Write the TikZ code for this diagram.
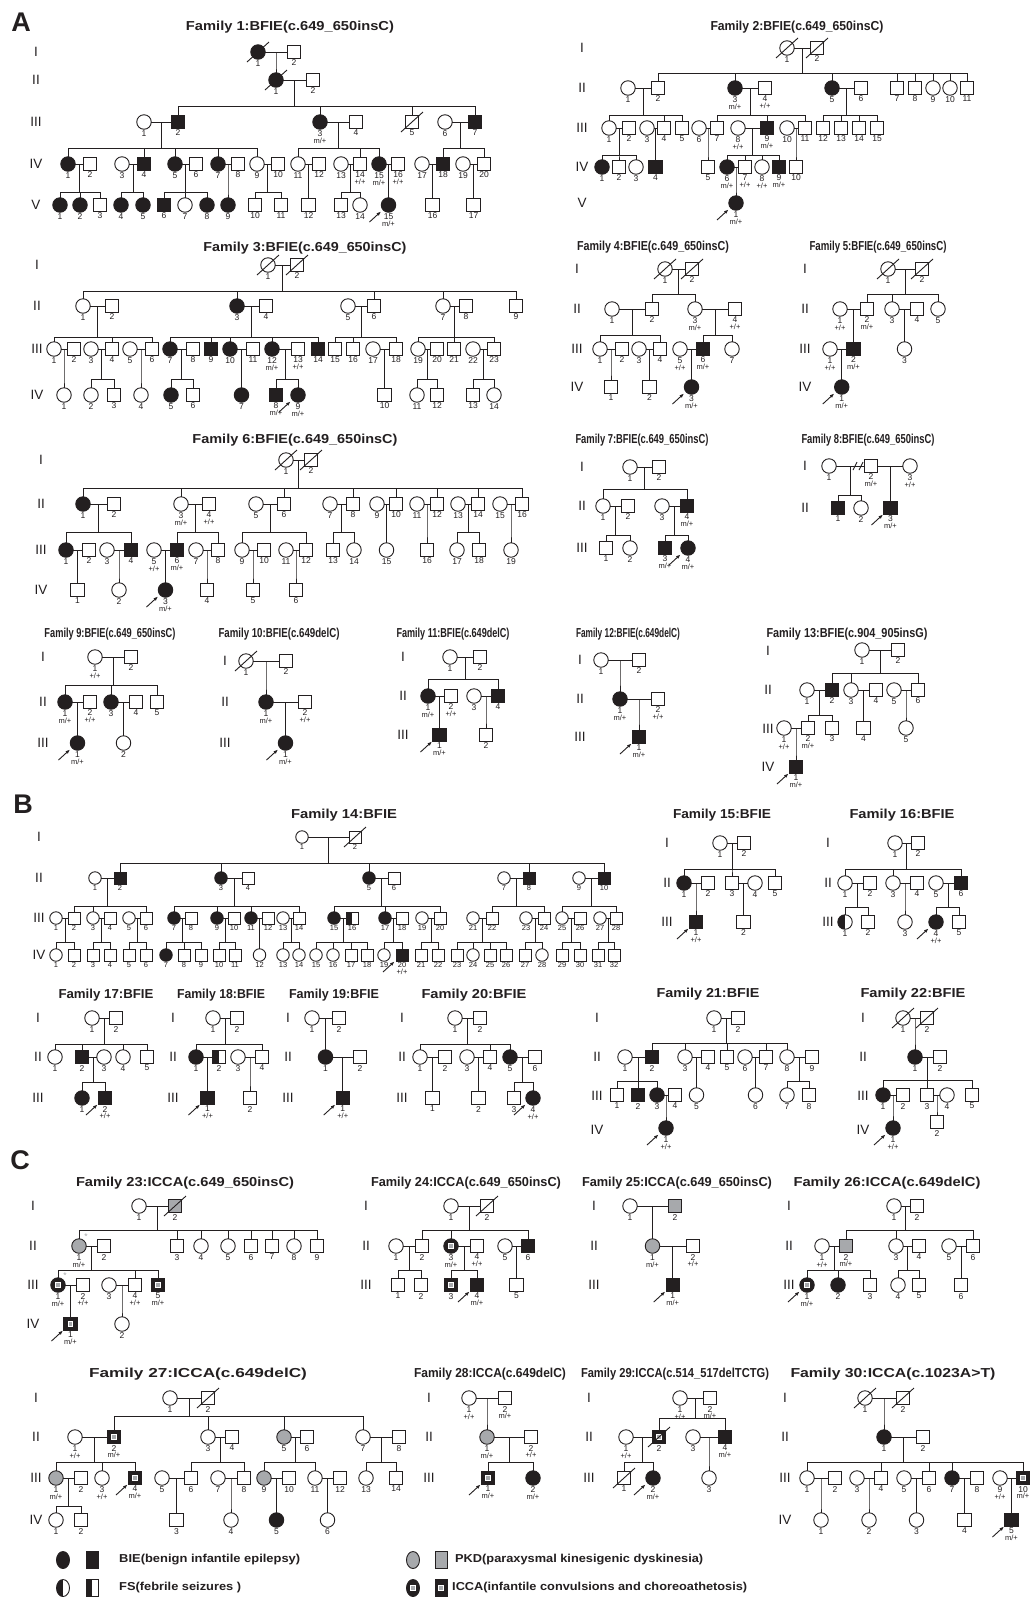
\documentclass[tikz,border=0pt]{standalone}
\usepackage{fontspec}
\setmainfont{Liberation Sans}
\usepackage{graphicx}
\usetikzlibrary{positioning, arrows.meta, calc, shapes.geometric}
\definecolor{ink}{HTML}{231F20}
\definecolor{pkdgray}{HTML}{A7A9AC}
\newcommand{\symsq}{13.5}
\newcommand{\symci}{14.5}
\newcommand{\numsize}{8.5}
\tikzset{
  ln/.style={draw=ink, line width=0.9pt},
  sym/.style={draw=ink, line width=0.9pt, inner sep=0pt, outer sep=0pt},
  ml/.style={sym, rectangle, minimum size=\symsq pt},
  fl/.style={sym, circle, minimum size=\symci pt},
  aff/.style={fill=ink},
  pkd/.style={fill=pkdgray},
  fs/.style={path picture={\fill[ink] (path picture bounding box.south west) rectangle (path picture bounding box.north);}},
  icca/.style={fill=ink, path picture={
    \fill[white] ([xshift=-2.8pt,yshift=-2.8pt]path picture bounding box.center) rectangle ([xshift=2.8pt,yshift=2.8pt]path picture bounding box.center);
    \fill[pkdgray] ([xshift=-1.6pt,yshift=-1.6pt]path picture bounding box.center) rectangle ([xshift=1.6pt,yshift=1.6pt]path picture bounding box.center);}},
  num/.style={inner sep=0.3pt, font=\fontsize{\numsize}{9}\selectfont, text=ink},
  gtp/.style={inner sep=0.3pt, font=\fontsize{7.5}{8}\selectfont, text=ink},
  gen/.style={inner sep=0pt, font=\fontsize{13.5}{14}\selectfont, text=ink},
  ttl/.style={inner sep=0pt, font=\bfseries\fontsize{13}{14}\selectfont, text=ink},
  pnl/.style={inner sep=0pt, font=\bfseries\fontsize{27}{28}\selectfont, text=ink},
  lgd/.style={inner sep=0pt, anchor=west, font=\bfseries\fontsize{11.5}{12}\selectfont, text=ink},
}
\newcommand{\ind}[4]{\node[#1] (#2) at (#3) {}; \node[num, below=0.8pt of #2] (#2n) {#4};}
\newcommand{\gty}[2]{\node[gtp, below=0.3pt of #1n] (#1g) {#2};}
\newcommand{\dead}[1]{\draw[ln] ($(#1)+(-11,10)$) -- ($(#1)+(11,-10)$);}
\newcommand{\prb}[1]{\draw[ln, -{Latex[length=4.5pt,width=3.5pt]}] ($(#1)+(-19,17)$) -- ($(#1)+(-7.5,6.5)$);}
\newcommand{\cpl}[3]{\draw[ln] (#1) -- (#2); \coordinate (#3) at ($(#1)!.5!(#2)$);}
\newcommand{\sib}[3]{\foreach \ch in {#3}{\draw[ln] (#1) -- (#1 |- 0,#2) -| (\ch.north);}}
\newcommand{\gens}[3]{\foreach \lb/\yy in {#3}{\node[gen] (#1\lb) at (#2,\yy) {\lb};}}
\newcommand{\famtitle}[4]{\node[ttl] (#1) at (#2) {\resizebox{#3pt}{\height}{#4}};}

\begin{document}
\begin{tikzpicture}[x=1pt, y=-1pt]
\fill[white] (0,0) rectangle (1035,1599);
\useasboundingbox (0,0) rectangle (1035,1599);

\node[pnl] (pA) at (21,22) {A};
\node[pnl] (pB) at (23,804) {B};
\node[pnl] (pC) at (20,1160) {C};

% Family 1
\famtitle{t1}{290,27}{208}{Family 1:BFIE(c.649\_650insC)}
\gens{g1}{36}{I/52,II/80,III/122,IV/164,V/205}
\ind{fl,aff}{f1a1}{258,52}{1} \dead{f1a1}
\ind{ml}{f1a2}{294,52}{2}
\cpl{f1a1}{f1a2}{m1a}
\ind{fl,aff}{f1b1}{276,80}{1} \dead{f1b1}
\ind{ml}{f1b2}{313,80}{2}
\sib{m1a}{66}{f1b1}
\cpl{f1b1}{f1b2}{m1b}
\ind{fl}{f1c1}{144,122}{1}
\ind{ml,aff}{f1c2}{178,122}{2}
\ind{fl,aff}{f1c3}{320,122}{3} \gty{f1c3}{m/+}
\ind{ml}{f1c4}{356,122}{4}
\ind{ml}{f1c5}{412,122}{5} \dead{f1c5}
\ind{fl}{f1c6}{445,122}{6}
\ind{ml,aff}{f1c7}{475,122}{7}
\sib{m1b}{106}{f1c2,f1c3,f1c5,f1c7}
\cpl{f1c1}{f1c2}{m1c1}
\cpl{f1c3}{f1c4}{m1c3}
\cpl{f1c6}{f1c7}{m1c6}
\ind{fl,aff}{f1d1}{68,164}{1}
\ind{ml}{f1d2}{90,164}{2}
\ind{fl}{f1d3}{122,164}{3}
\ind{ml,aff}{f1d4}{144,164}{4}
\ind{fl,aff}{f1d5}{175,164}{5}
\ind{ml}{f1d6}{196,164}{6}
\ind{fl,aff}{f1d7}{218,164}{7}
\ind{ml}{f1d8}{238,164}{8}
\ind{fl}{f1d9}{257,164}{9}
\ind{ml}{f1d10}{278,164}{10}
\ind{fl}{f1d11}{298,164}{11}
\ind{ml}{f1d12}{319,164}{12}
\ind{fl}{f1d13}{341,164}{13}
\ind{ml}{f1d14}{360,164}{14} \gty{f1d14}{+/+}
\ind{fl,aff}{f1d15}{379,164}{15} \gty{f1d15}{m/+}
\ind{ml}{f1d16}{398,164}{16} \gty{f1d16}{+/+}
\ind{fl}{f1d17}{422,164}{17}
\ind{ml,aff}{f1d18}{443,164}{18}
\ind{fl}{f1d19}{463,164}{19}
\ind{ml}{f1d20}{484,164}{20}
\sib{m1c1}{148}{f1d1,f1d4,f1d5,f1d7,f1d9}
\sib{m1c3}{148}{f1d11,f1d14,f1d15}
\sib{m1c6}{148}{f1d18,f1d20}
\cpl{f1d1}{f1d2}{m1d1}
\cpl{f1d3}{f1d4}{m1d3}
\cpl{f1d5}{f1d6}{m1d5}
\cpl{f1d7}{f1d8}{m1d7}
\cpl{f1d9}{f1d10}{m1d9}
\cpl{f1d11}{f1d12}{m1d11}
\cpl{f1d13}{f1d14}{m1d13}
\cpl{f1d15}{f1d16}{m1d15}
\cpl{f1d17}{f1d18}{m1d17}
\cpl{f1d19}{f1d20}{m1d19}
\ind{fl,aff}{f1e1}{60,205}{1}
\ind{fl,aff}{f1e2}{80,205}{2}
\ind{ml}{f1e3}{100,205}{3}
\ind{fl,aff}{f1e4}{121,205}{4}
\ind{fl,aff}{f1e5}{143,205}{5}
\ind{ml,aff}{f1e6}{164,205}{6}
\ind{fl}{f1e7}{185,205}{7}
\ind{fl,aff}{f1e8}{207,205}{8}
\ind{fl,aff}{f1e9}{228,205}{9}
\ind{ml}{f1e10}{255,205}{10}
\ind{ml}{f1e11}{281,205}{11}
\ind{ml}{f1e12}{308.5,205}{12}
\ind{ml}{f1e13}{341,205}{13}
\ind{fl}{f1e14}{360,205}{14}
\ind{fl,aff}{f1e15}{388.5,205}{15} \gty{f1e15}{m/+} \prb{f1e15}
\ind{ml}{f1e16}{432.5,205}{16}
\ind{ml}{f1e17}{473.5,205}{17}
\sib{m1d1}{192}{f1e1,f1e2,f1e3}
\sib{m1d3}{192}{f1e4,f1e5}
\sib{m1d5}{192}{f1e6,f1e7,f1e8}
\sib{m1d7}{192}{f1e9}
\sib{m1d9}{192}{f1e10,f1e11}
\sib{m1d11}{192}{f1e12}
\sib{m1d13}{192}{f1e13,f1e14}
\sib{m1d15}{192}{f1e15}
\sib{m1d17}{192}{f1e16}
\sib{m1d19}{192}{f1e17}

% Family 2
\famtitle{t2}{797,27}{173}{Family 2:BFIE(c.649\_650insC)}
\gens{g2}{582}{I/48,II/88,III/128,IV/167,V/203}
\ind{fl}{f2a1}{787,48}{1} \dead{f2a1}
\ind{ml}{f2a2}{817,48}{2} \dead{f2a2}
\cpl{f2a1}{f2a2}{m2a}
\ind{fl}{f2b1}{628,88}{1}
\ind{ml}{f2b2}{658,88}{2}
\ind{fl,aff}{f2b3}{735,88}{3} \gty{f2b3}{m/+}
\ind{ml}{f2b4}{765,88}{4} \gty{f2b4}{+/+}
\ind{fl,aff}{f2b5}{832,88}{5}
\ind{ml}{f2b6}{861,88}{6}
\ind{ml}{f2b7}{897,88}{7}
\ind{ml}{f2b8}{915,88}{8}
\ind{fl}{f2b9}{933,88}{9}
\ind{fl}{f2b10}{950,88}{10}
\ind{ml}{f2b11}{967,88}{11}
\sib{m2a}{73}{f2b2,f2b3,f2b5,f2b7,f2b8,f2b9,f2b10,f2b11}
\cpl{f2b1}{f2b2}{m2b1}
\cpl{f2b3}{f2b4}{m2b3}
\cpl{f2b5}{f2b6}{m2b5}
\ind{fl}{f2c1}{609,128}{1}
\ind{ml}{f2c2}{629,128}{2}
\ind{fl}{f2c3}{647,128}{3}
\ind{ml}{f2c4}{664,128}{4}
\ind{ml}{f2c5}{682,128}{5}
\ind{fl}{f2c6}{699,128}{6}
\ind{ml}{f2c7}{717,128}{7}
\ind{fl}{f2c8}{738,128}{8} \gty{f2c8}{+/+}
\ind{ml,aff}{f2c9}{767,128}{9} \gty{f2c9}{m/+}
\ind{fl}{f2c10}{787,128}{10}
\ind{ml}{f2c11}{805,128}{11}
\ind{ml}{f2c12}{823,128}{12}
\ind{ml}{f2c13}{841,128}{13}
\ind{ml}{f2c14}{859,128}{14}
\ind{ml}{f2c15}{877,128}{15}
\sib{m2b1}{115}{f2c1,f2c4,f2c5}
\sib{m2b3}{115}{f2c7,f2c9,f2c11}
\sib{m2b5}{115}{f2c12,f2c13,f2c14,f2c15}
\cpl{f2c1}{f2c2}{m2c1}
\cpl{f2c3}{f2c4}{m2c3}
\cpl{f2c6}{f2c7}{m2c6}
\cpl{f2c8}{f2c9}{m2c8}
\cpl{f2c10}{f2c11}{m2c10}
\ind{fl,aff}{f2d1}{602,167}{1}
\ind{ml}{f2d2}{619,167}{2}
\ind{fl}{f2d3}{636,167}{3}
\ind{ml,aff}{f2d4}{655.5,167}{4}
\ind{ml}{f2d5}{708,167}{5}
\ind{fl,aff}{f2d6}{727,167}{6} \gty{f2d6}{m/+}
\ind{ml}{f2d7}{745,167}{7} \gty{f2d7}{+/+}
\ind{fl}{f2d8}{762,167}{8} \gty{f2d8}{+/+}
\ind{ml,aff}{f2d9}{779,167}{9} \gty{f2d9}{m/+}
\ind{ml}{f2d10}{796,167}{10}
\sib{m2c1}{155}{f2d1,f2d2,f2d3}
\sib{m2c3}{155}{f2d4}
\sib{m2c6}{155}{f2d5}
\sib{m2c8}{155}{f2d6,f2d7,f2d8,f2d9}
\sib{m2c10}{155}{f2d10}
\cpl{f2d6}{f2d7}{m2d6}
\ind{fl,aff}{f2e1}{736,203}{1} \gty{f2e1}{m/+} \prb{f2e1}
\sib{m2d6}{190}{f2e1}

% Family 3
\famtitle{t3}{305,248}{203}{Family 3:BFIE(c.649\_650insC)}
\gens{g3}{37}{I/265,II/306,III/349,IV/395}
\ind{fl}{f3a1}{268,265}{1} \dead{f3a1}
\ind{ml}{f3a2}{297,265}{2} \dead{f3a2}
\cpl{f3a1}{f3a2}{m3a}
\ind{fl}{f3b1}{83,306}{1}
\ind{ml}{f3b2}{112,306}{2}
\ind{fl,aff}{f3b3}{237,306}{3}
\ind{ml}{f3b4}{266,306}{4}
\ind{fl}{f3b5}{348,306}{5}
\ind{ml}{f3b6}{374,306}{6}
\ind{fl}{f3b7}{443,306}{7}
\ind{ml}{f3b8}{466,306}{8}
\ind{ml}{f3b9}{516,306}{9}
\sib{m3a}{291}{f3b1,f3b3,f3b6,f3b7,f3b9}
\cpl{f3b1}{f3b2}{m3b1}
\cpl{f3b3}{f3b4}{m3b3}
\cpl{f3b5}{f3b6}{m3b5}
\cpl{f3b7}{f3b8}{m3b7}
\ind{fl}{f3c1}{54,349}{1}
\ind{ml}{f3c2}{74,349}{2}
\ind{fl}{f3c3}{91,349}{3}
\ind{ml}{f3c4}{112,349}{4}
\ind{fl}{f3c5}{130,349}{5}
\ind{ml}{f3c6}{152,349}{6}
\ind{fl,aff}{f3c7}{170,349}{7}
\ind{ml}{f3c8}{193,349}{8}
\ind{ml,aff}{f3c9}{211,349}{9}
\ind{fl,aff}{f3c10}{230,349}{10}
\ind{ml}{f3c11}{253,349}{11}
\ind{fl,aff}{f3c12}{272,349}{12} \gty{f3c12}{m/+}
\ind{ml}{f3c13}{298,349}{13} \gty{f3c13}{+/+}
\ind{ml,aff}{f3c14}{318,349}{14}
\ind{ml}{f3c15}{335,349}{15}
\ind{ml}{f3c16}{353,349}{16}
\ind{fl}{f3c17}{373,349}{17}
\ind{ml}{f3c18}{396,349}{18}
\ind{fl}{f3c19}{418,349}{19}
\ind{ml}{f3c20}{437,349}{20}
\ind{ml}{f3c21}{454,349}{21}
\ind{fl}{f3c22}{473,349}{22}
\ind{ml}{f3c23}{494,349}{23}
\sib{m3b1}{337}{f3c1,f3c4,f3c6}
\sib{m3b3}{337}{f3c7,f3c9,f3c10,f3c12,f3c14}
\sib{m3b5}{337}{f3c15,f3c16,f3c18}
\sib{m3b7}{337}{f3c19,f3c21,f3c23}
\cpl{f3c1}{f3c2}{m3c1}
\cpl{f3c3}{f3c4}{m3c3}
\cpl{f3c5}{f3c6}{m3c5}
\cpl{f3c7}{f3c8}{m3c7}
\cpl{f3c10}{f3c11}{m3c10}
\cpl{f3c12}{f3c13}{m3c12}
\cpl{f3c17}{f3c18}{m3c17}
\cpl{f3c19}{f3c20}{m3c19}
\cpl{f3c22}{f3c23}{m3c22}
\ind{fl}{f3d1}{64,395}{1}
\ind{fl}{f3d2}{91,395}{2}
\ind{ml}{f3d3}{114,395}{3}
\ind{fl}{f3d4}{141,395}{4}
\ind{fl,aff}{f3d5}{171,395}{5}
\ind{ml}{f3d6}{193,395}{6}
\ind{fl,aff}{f3d7}{241.5,395}{7}
\ind{ml,aff}{f3d8}{276,395}{8} \gty{f3d8}{m/+}
\ind{fl,aff}{f3d9}{298,395}{9} \gty{f3d9}{m/+} \prb{f3d9}
\ind{ml}{f3d10}{384.5,395}{10}
\ind{fl}{f3d11}{417,395}{11}
\ind{ml}{f3d12}{437,395}{12}
\ind{ml}{f3d13}{473,395}{13}
\ind{fl}{f3d14}{494,395}{14}
\sib{m3c1}{379}{f3d1}
\sib{m3c3}{379}{f3d2,f3d3}
\sib{m3c5}{379}{f3d4}
\sib{m3c7}{379}{f3d5,f3d6}
\sib{m3c10}{379}{f3d7}
\sib{m3c12}{379}{f3d8,f3d9}
\sib{m3c17}{379}{f3d10}
\sib{m3c19}{379}{f3d11,f3d12}
\sib{m3c22}{379}{f3d13,f3d14}

% Family 4
\famtitle{t4}{653,247}{152}{Family 4:BFIE(c.649\_650insC)}
\gens{g4}{577}{I/269,II/309,III/349,IV/387}
\ind{fl}{f4a1}{665,269}{1} \dead{f4a1}
\ind{ml}{f4a2}{692,269}{2} \dead{f4a2}
\cpl{f4a1}{f4a2}{m4a}
\ind{fl}{f4b1}{612,309}{1}
\ind{ml}{f4b2}{652,309}{2}
\ind{fl}{f4b3}{695,309}{3} \gty{f4b3}{m/+}
\ind{ml}{f4b4}{735,309}{4} \gty{f4b4}{+/+}
\sib{m4a}{294}{f4b2,f4b3}
\cpl{f4b1}{f4b2}{m4b1}
\cpl{f4b3}{f4b4}{m4b3}
\ind{fl}{f4c1}{600,349}{1}
\ind{ml}{f4c2}{622,349}{2}
\ind{fl}{f4c3}{639,349}{3}
\ind{ml}{f4c4}{660,349}{4}
\ind{fl}{f4c5}{680,349}{5} \gty{f4c5}{+/+}
\ind{ml,aff}{f4c6}{703,349}{6} \gty{f4c6}{m/+}
\ind{fl}{f4c7}{732,349}{7}
\sib{m4b1}{335}{f4c1,f4c4}
\sib{m4b3}{335}{f4c6,f4c7}
\cpl{f4c1}{f4c2}{m4c1}
\cpl{f4c3}{f4c4}{m4c3}
\cpl{f4c5}{f4c6}{m4c5}
\ind{ml}{f4d1}{611,387}{1}
\ind{ml}{f4d2}{649.5,387}{2}
\ind{fl,aff}{f4d3}{691.5,387}{3} \gty{f4d3}{m/+} \prb{f4d3}
\sib{m4c1}{372}{f4d1}
\sib{m4c3}{372}{f4d2}
\sib{m4c5}{372}{f4d3}

% Family 5
\famtitle{t5}{878,247}{137}{Family 5:BFIE(c.649\_650insC)}
\gens{g5}{805}{I/269,II/309,III/349,IV/387}
\ind{fl}{f5a1}{888,269}{1} \dead{f5a1}
\ind{ml}{f5a2}{922,269}{2} \dead{f5a2}
\cpl{f5a1}{f5a2}{m5a}
\ind{fl}{f5b1}{840,309}{1} \gty{f5b1}{+/+}
\ind{ml}{f5b2}{867,309}{2} \gty{f5b2}{m/+}
\ind{fl}{f5b3}{892,309}{3}
\ind{ml}{f5b4}{917,309}{4}
\ind{fl}{f5b5}{938,309}{5}
\sib{m5a}{294}{f5b2,f5b3,f5b5}
\cpl{f5b1}{f5b2}{m5b1}
\cpl{f5b3}{f5b4}{m5b3}
\ind{fl}{f5c1}{830,349}{1} \gty{f5c1}{+/+}
\ind{ml,aff}{f5c2}{853.5,349}{2} \gty{f5c2}{m/+}
\ind{fl}{f5c3}{904.5,349}{3}
\sib{m5b1}{335}{f5c2}
\sib{m5b3}{335}{f5c3}
\cpl{f5c1}{f5c2}{m5c1}
\ind{fl,aff}{f5d1}{841.75,387}{1} \gty{f5d1}{m/+} \prb{f5d1}
\sib{m5c1}{372}{f5d1}

% Family 6
\famtitle{t6}{295,440}{205}{Family 6:BFIE(c.649\_650insC)}
\gens{g6}{41}{I/460,II/504,III/550,IV/590}
\ind{fl}{f6a1}{286,460}{1} \dead{f6a1}
\ind{ml}{f6a2}{311,460}{2} \dead{f6a2}
\cpl{f6a1}{f6a2}{m6a}
\ind{fl,aff}{f6b1}{83,504}{1}
\ind{ml}{f6b2}{114,504}{2}
\ind{fl}{f6b3}{181,504}{3} \gty{f6b3}{m/+}
\ind{ml}{f6b4}{209,504}{4} \gty{f6b4}{+/+}
\ind{fl}{f6b5}{256,504}{5}
\ind{ml}{f6b6}{284,504}{6}
\ind{fl}{f6b7}{330,504}{7}
\ind{ml}{f6b8}{353,504}{8}
\ind{fl}{f6b9}{377,504}{9}
\ind{ml}{f6b10}{396,504}{10}
\ind{fl}{f6b11}{417,504}{11}
\ind{ml}{f6b12}{437,504}{12}
\ind{fl}{f6b13}{458,504}{13}
\ind{ml}{f6b14}{478,504}{14}
\ind{fl}{f6b15}{500,504}{15}
\ind{ml}{f6b16}{522,504}{16}
\sib{m6a}{488}{f6b1,f6b3,f6b6,f6b8,f6b10,f6b12,f6b14,f6b16}
\cpl{f6b1}{f6b2}{m6b1}
\cpl{f6b3}{f6b4}{m6b3}
\cpl{f6b5}{f6b6}{m6b5}
\cpl{f6b7}{f6b8}{m6b7}
\cpl{f6b9}{f6b10}{m6b9}
\cpl{f6b11}{f6b12}{m6b11}
\cpl{f6b13}{f6b14}{m6b13}
\cpl{f6b15}{f6b16}{m6b15}
\ind{fl,aff}{f6c1}{66,550}{1}
\ind{ml}{f6c2}{89,550}{2}
\ind{fl}{f6c3}{107,550}{3}
\ind{ml,aff}{f6c4}{131,550}{4}
\ind{fl}{f6c5}{154,550}{5} \gty{f6c5}{+/+}
\ind{ml,aff}{f6c6}{177,550}{6} \gty{f6c6}{m/+}
\ind{fl}{f6c7}{196,550}{7}
\ind{ml}{f6c8}{218,550}{8}
\ind{fl}{f6c9}{242,550}{9}
\ind{ml}{f6c10}{264,550}{10}
\ind{fl}{f6c11}{286,550}{11}
\ind{ml}{f6c12}{306,550}{12}
\ind{ml}{f6c13}{333,550}{13}
\ind{fl}{f6c14}{354,550}{14}
\ind{fl}{f6c15}{386.5,550}{15}
\ind{ml}{f6c16}{427,550}{16}
\ind{fl}{f6c17}{457,550}{17}
\ind{ml}{f6c18}{479,550}{18}
\ind{fl}{f6c19}{511,550}{19}
\sib{m6b1}{532}{f6c1,f6c4}
\sib{m6b3}{532}{f6c6,f6c8}
\sib{m6b5}{532}{f6c9,f6c12}
\sib{m6b7}{532}{f6c13,f6c14}
\sib{m6b9}{532}{f6c15}
\sib{m6b11}{532}{f6c16}
\sib{m6b13}{532}{f6c17,f6c18}
\sib{m6b15}{532}{f6c19}
\cpl{f6c1}{f6c2}{m6c1}
\cpl{f6c3}{f6c4}{m6c3}
\cpl{f6c5}{f6c6}{m6c5}
\cpl{f6c7}{f6c8}{m6c7}
\cpl{f6c9}{f6c10}{m6c9}
\cpl{f6c11}{f6c12}{m6c11}
\ind{ml}{f6d1}{77.5,590}{1}
\ind{fl}{f6d2}{119,590}{2}
\ind{fl,aff}{f6d3}{165.5,590}{3} \gty{f6d3}{m/+} \prb{f6d3}
\ind{ml}{f6d4}{207,590}{4}
\ind{ml}{f6d5}{253,590}{5}
\ind{ml}{f6d6}{296,590}{6}
\sib{m6c1}{575}{f6d1}
\sib{m6c3}{575}{f6d2}
\sib{m6c5}{575}{f6d3}
\sib{m6c7}{575}{f6d4}
\sib{m6c9}{575}{f6d5}
\sib{m6c11}{575}{f6d6}

% Family 7
\famtitle{t7}{642,440}{133}{Family 7:BFIE(c.649\_650insC)}
\gens{g7}{582}{I/467,II/506,III/548}
\ind{fl}{f7a1}{630,467}{1}
\ind{ml}{f7a2}{659,467}{2}
\cpl{f7a1}{f7a2}{m7a}
\ind{fl}{f7b1}{603,506}{1}
\ind{ml}{f7b2}{628,506}{2}
\ind{fl}{f7b3}{662,506}{3}
\ind{ml,aff}{f7b4}{687,506}{4} \gty{f7b4}{m/+}
\sib{m7a}{489}{f7b1,f7b4}
\cpl{f7b1}{f7b2}{m7b1}
\cpl{f7b3}{f7b4}{m7b3}
\ind{ml}{f7c1}{606,548}{1}
\ind{fl}{f7c2}{630,548}{2}
\ind{ml,aff}{f7c3}{665,548}{3} \gty{f7c3}{m/+}
\ind{fl,aff}{f7c4}{688,548}{4} \gty{f7c4}{m/+} \prb{f7c4}
\sib{m7b1}{535}{f7c1,f7c2}
\sib{m7b3}{535}{f7c3,f7c4}

% Family 8
\famtitle{t8}{868,440}{133}{Family 8:BFIE(c.649\_650insC)}
\gens{g8}{805}{I/466,II/508}
\ind{fl}{f8a1}{829,466}{1}
\ind{ml}{f8a2}{871,466}{2} \gty{f8a2}{m/+}
\ind{fl}{f8a3}{910,466}{3} \gty{f8a3}{+/+}
\cpl{f8a1}{f8a2}{m8a}
\cpl{f8a2}{f8a3}{m8b}
\draw[ln] ($(m8a)+(3,4)$) -- ($(m8a)+(7,-4)$);
\draw[ln] ($(m8a)+(9,4)$) -- ($(m8a)+(13,-4)$);
\ind{ml,aff}{f8b1}{838,508}{1}
\ind{fl}{f8b2}{861,508}{2}
\ind{ml,aff}{f8b3}{890.5,508}{3} \gty{f8b3}{m/+} \prb{f8b3}
\sib{m8a}{495}{f8b1,f8b2}
\sib{m8b}{495}{f8b3}

% Family 9
\famtitle{t9}{110,634}{131}{Family 9:BFIE(c.649\_650insC)}
\gens{g9}{43}{I/657,II/702,III/743}
\ind{fl}{f9a1}{95,657}{1} \gty{f9a1}{+/+}
\ind{ml}{f9a2}{131,657}{2}
\cpl{f9a1}{f9a2}{m9a}
\ind{fl,aff}{f9b1}{65,702}{1} \gty{f9b1}{m/+}
\ind{ml}{f9b2}{90,702}{2} \gty{f9b2}{+/+}
\ind{fl,aff}{f9b3}{111,702}{3}
\ind{ml}{f9b4}{136,702}{4}
\ind{ml}{f9b5}{157,702}{5}
\sib{m9a}{685}{f9b1,f9b3,f9b5}
\cpl{f9b1}{f9b2}{m9b1}
\cpl{f9b3}{f9b4}{m9b3}
\ind{fl,aff}{f9c1}{77.5,743}{1} \gty{f9c1}{m/+} \prb{f9c1}
\ind{fl}{f9c2}{123.5,743}{2}
\sib{m9b1}{728}{f9c1}
\sib{m9b3}{728}{f9c2}

% Family 10
\famtitle{t10}{279,634}{121}{Family 10:BFIE(c.649delC)}
\gens{g10}{225}{I/661,II/702,III/743}
\ind{fl}{f10a1}{246,661}{1} \dead{f10a1}
\ind{ml}{f10a2}{286,661}{2}
\cpl{f10a1}{f10a2}{m10a}
\ind{fl,aff}{f10b1}{266,702}{1} \gty{f10b1}{m/+}
\ind{ml}{f10b2}{305,702}{2} \gty{f10b2}{+/+}
\sib{m10a}{685}{f10b1}
\cpl{f10b1}{f10b2}{m10b}
\ind{fl,aff}{f10c1}{285.5,743}{1} \gty{f10c1}{m/+} \prb{f10c1}
\sib{m10b}{728}{f10c1}

% Family 11
\famtitle{t11}{453,634}{113}{Family 11:BFIE(c.649delC)}
\gens{g11}{403}{I/657,II/696,III/735}
\ind{fl}{f11a1}{450,657}{1}
\ind{ml}{f11a2}{480,657}{2}
\cpl{f11a1}{f11a2}{m11a}
\ind{fl,aff}{f11b1}{428,696}{1} \gty{f11b1}{m/+}
\ind{ml}{f11b2}{451,696}{2} \gty{f11b2}{+/+}
\ind{fl}{f11b3}{474,696}{3}
\ind{ml,aff}{f11b4}{498,696}{4}
\sib{m11a}{679}{f11b1,f11b4}
\cpl{f11b1}{f11b2}{m11b1}
\cpl{f11b3}{f11b4}{m11b3}
\ind{ml,aff}{f11c1}{439.5,735}{1} \gty{f11c1}{m/+} \prb{f11c1}
\ind{ml}{f11c2}{486,735}{2}
\sib{m11b1}{720}{f11c1}
\sib{m11b3}{720}{f11c2}

% Family 12
\famtitle{t12}{628,634}{104}{Family 12:BFIE(c.649delC)}
\gens{g12}{580}{I/660,II/699,III/737}
\ind{fl}{f12a1}{601,660}{1}
\ind{ml}{f12a2}{639,660}{2}
\cpl{f12a1}{f12a2}{m12a}
\ind{fl,aff}{f12b1}{620,699}{1} \gty{f12b1}{m/+}
\ind{ml}{f12b2}{658,699}{2} \gty{f12b2}{+/+}
\sib{m12a}{680}{f12b1}
\cpl{f12b1}{f12b2}{m12b}
\ind{ml,aff}{f12c1}{639,737}{1} \gty{f12c1}{m/+} \prb{f12c1}
\sib{m12b}{720}{f12c1}

% Family 13
\famtitle{t13}{847,634}{161}{Family 13:BFIE(c.904\_905insG)}
\gens{g13}{768}{I/651,II/690,III/729,IV/767}
\ind{fl}{f13a1}{862,650}{1}
\ind{ml}{f13a2}{898,650}{2}
\cpl{f13a1}{f13a2}{m13a}
\ind{fl}{f13b1}{807,690}{1}
\ind{ml,aff}{f13b2}{832,690}{2}
\ind{fl}{f13b3}{851,690}{3}
\ind{ml}{f13b4}{876,690}{4}
\ind{fl}{f13b5}{894,690}{5}
\ind{ml}{f13b6}{918,690}{6}
\sib{m13a}{673}{f13b2,f13b3,f13b6}
\cpl{f13b1}{f13b2}{m13b1}
\cpl{f13b3}{f13b4}{m13b3}
\cpl{f13b5}{f13b6}{m13b5}
\ind{fl}{f13c1}{784,728}{1} \gty{f13c1}{+/+}
\ind{ml}{f13c2}{808,728}{2} \gty{f13c2}{m/+}
\ind{ml}{f13c3}{832,728}{3}
\ind{ml}{f13c4}{863.5,728}{4}
\ind{fl}{f13c5}{906,728}{5}
\sib{m13b1}{715}{f13c2,f13c3}
\sib{m13b3}{715}{f13c4}
\sib{m13b5}{715}{f13c5}
\cpl{f13c1}{f13c2}{m13c1}
\ind{ml,aff}{f13d1}{796,767}{1} \gty{f13d1}{m/+} \prb{f13d1}
\sib{m13c1}{752}{f13d1}

% Family 14
\renewcommand{\symsq}{12}
\renewcommand{\symci}{12.5}
\renewcommand{\numsize}{7.5}
\famtitle{t14}{344,815}{106}{Family 14:BFIE}
\gens{g14}{39}{I/837,II/878,III/918,IV/955}
\ind{fl}{f14a1}{302,837}{1}
\ind{ml}{f14a2}{355,837}{2} \dead{f14a2}
\cpl{f14a1}{f14a2}{m14a}
\ind{fl}{f14b1}{95,878}{1}
\ind{ml,aff}{f14b2}{120,878}{2}
\ind{fl,aff}{f14b3}{221,878}{3}
\ind{ml}{f14b4}{248,878}{4}
\ind{fl,aff}{f14b5}{369,878}{5}
\ind{ml}{f14b6}{394,878}{6}
\ind{fl}{f14b7}{504,878}{7}
\ind{ml,aff}{f14b8}{529,878}{8}
\ind{fl}{f14b9}{579,878}{9}
\ind{ml,aff}{f14b10}{604,878}{10}
\sib{m14a}{863}{f14b2,f14b3,f14b5,f14b8,f14b10}
\cpl{f14b1}{f14b2}{m14b1}
\cpl{f14b3}{f14b4}{m14b3}
\cpl{f14b5}{f14b6}{m14b5}
\cpl{f14b7}{f14b8}{m14b7}
\cpl{f14b9}{f14b10}{m14b9}
\ind{fl}{f14c1}{56,918}{1}
\ind{ml}{f14c2}{74,918}{2}
\ind{fl}{f14c3}{93,918}{3}
\ind{ml}{f14c4}{110,918}{4}
\ind{fl}{f14c5}{129,918}{5}
\ind{ml}{f14c6}{146,918}{6}
\ind{fl,aff}{f14c7}{174,918}{7}
\ind{ml}{f14c8}{191,918}{8}
\ind{fl,aff}{f14c9}{217,918}{9}
\ind{ml}{f14c10}{234,918}{10}
\ind{fl,aff}{f14c11}{251,918}{11}
\ind{ml}{f14c12}{268,918}{12}
\ind{fl}{f14c13}{283,918}{13}
\ind{ml}{f14c14}{299,918}{14}
\ind{fl,aff}{f14c15}{334,918}{15}
\ind{ml,fs}{f14c16}{352,918}{16}
\ind{fl,aff}{f14c17}{385,918}{17}
\ind{ml}{f14c18}{402,918}{18}
\ind{fl}{f14c19}{422,918}{19}
\ind{ml}{f14c20}{440,918}{20}
\ind{fl}{f14c21}{473,918}{21}
\ind{ml}{f14c22}{492,918}{22}
\ind{fl}{f14c23}{526,918}{23}
\ind{ml}{f14c24}{544,918}{24}
\ind{fl}{f14c25}{562,918}{25}
\ind{ml}{f14c26}{580,918}{26}
\ind{fl}{f14c27}{600,918}{27}
\ind{ml}{f14c28}{616,918}{28}
\sib{m14b1}{906}{f14c2,f14c3,f14c6}
\sib{m14b3}{906}{f14c7,f14c9,f14c11,f14c14}
\sib{m14b5}{906}{f14c15,f14c17,f14c20}
\sib{m14b7}{906}{f14c22,f14c24}
\sib{m14b9}{906}{f14c25,f14c28}
\cpl{f14c1}{f14c2}{m14c1}
\cpl{f14c3}{f14c4}{m14c3}
\cpl{f14c5}{f14c6}{m14c5}
\cpl{f14c7}{f14c8}{m14c7}
\cpl{f14c9}{f14c10}{m14c9}
\cpl{f14c11}{f14c12}{m14c11}
\cpl{f14c13}{f14c14}{m14c13}
\cpl{f14c15}{f14c16}{m14c15}
\cpl{f14c17}{f14c18}{m14c17}
\cpl{f14c19}{f14c20}{m14c19}
\cpl{f14c21}{f14c22}{m14c21}
\cpl{f14c23}{f14c24}{m14c23}
\cpl{f14c25}{f14c26}{m14c25}
\cpl{f14c27}{f14c28}{m14c27}
\ind{fl}{f14d1}{56,955}{1}
\ind{ml}{f14d2}{74,955}{2}
\ind{ml}{f14d3}{93,955}{3}
\ind{ml}{f14d4}{110,955}{4}
\ind{ml}{f14d5}{129,955}{5}
\ind{ml}{f14d6}{146,955}{6}
\ind{fl,aff}{f14d7}{166,955}{7}
\ind{ml}{f14d8}{184,955}{8}
\ind{ml}{f14d9}{201,955}{9}
\ind{ml}{f14d10}{219,955}{10}
\ind{ml}{f14d11}{235,955}{11}
\ind{fl}{f14d12}{259.5,955}{12}
\ind{fl}{f14d13}{283,955}{13}
\ind{fl}{f14d14}{299,955}{14}
\ind{fl}{f14d15}{316,955}{15}
\ind{fl}{f14d16}{333,955}{16}
\ind{ml}{f14d17}{351,955}{17}
\ind{ml}{f14d18}{367,955}{18}
\ind{fl}{f14d19}{384,955}{19}
\ind{ml,aff}{f14d20}{402,955}{20} \gty{f14d20}{+/+} \prb{f14d20}
\ind{ml}{f14d21}{421,955}{21}
\ind{ml}{f14d22}{438,955}{22}
\ind{ml}{f14d23}{457,955}{23}
\ind{fl}{f14d24}{473,955}{24}
\ind{ml}{f14d25}{490,955}{25}
\ind{ml}{f14d26}{506,955}{26}
\ind{ml}{f14d27}{525,955}{27}
\ind{fl}{f14d28}{542,955}{28}
\ind{ml}{f14d29}{562,955}{29}
\ind{ml}{f14d30}{580,955}{30}
\ind{ml}{f14d31}{598,955}{31}
\ind{ml}{f14d32}{614,955}{32}
\sib{m14c1}{942}{f14d1,f14d2}
\sib{m14c3}{942}{f14d3,f14d4}
\sib{m14c5}{942}{f14d5,f14d6}
\sib{m14c7}{942}{f14d7,f14d8,f14d9}
\sib{m14c9}{942}{f14d10,f14d11}
\sib{m14c11}{942}{f14d12}
\sib{m14c13}{942}{f14d13,f14d14}
\sib{m14c15}{942}{f14d15,f14d16,f14d17,f14d18}
\sib{m14c17}{942}{f14d19,f14d20}
\sib{m14c19}{942}{f14d21,f14d22}
\sib{m14c21}{942}{f14d23,f14d24,f14d25,f14d26}
\sib{m14c23}{942}{f14d27,f14d28}
\sib{m14c25}{942}{f14d29,f14d30}
\sib{m14c27}{942}{f14d31,f14d32}
\renewcommand{\symsq}{13.5}
\renewcommand{\symci}{14.5}
\renewcommand{\numsize}{8.5}

% Family 15
\famtitle{t15}{722,815}{98}{Family 15:BFIE}
\gens{g15}{667}{I/843,II/883,III/922}
\ind{fl}{f15a1}{720,843}{1}
\ind{ml}{f15a2}{744,843}{2}
\cpl{f15a1}{f15a2}{m15a}
\ind{fl,aff}{f15b1}{684,883}{1}
\ind{ml}{f15b2}{708,883}{2}
\ind{ml}{f15b3}{732,883}{3}
\ind{fl}{f15b4}{755,883}{4}
\ind{ml}{f15b5}{775,883}{5}
\sib{m15a}{869}{f15b1,f15b3,f15b5}
\cpl{f15b1}{f15b2}{m15b1}
\cpl{f15b3}{f15b4}{m15b3}
\ind{ml,aff}{f15c1}{696,922}{1} \gty{f15c1}{+/+} \prb{f15c1}
\ind{ml}{f15c2}{743.5,922}{2}
\sib{m15b1}{907}{f15c1}
\sib{m15b3}{907}{f15c2}

% Family 16
\famtitle{t16}{902,815}{105}{Family 16:BFIE}
\gens{g16}{828}{I/843,II/883,III/922}
\ind{fl}{f16a1}{895,843}{1}
\ind{ml}{f16a2}{918,843}{2}
\cpl{f16a1}{f16a2}{m16a}
\ind{fl}{f16b1}{845,883}{1}
\ind{ml}{f16b2}{870,883}{2}
\ind{fl}{f16b3}{893,883}{3}
\ind{ml}{f16b4}{917,883}{4}
\ind{fl}{f16b5}{936,883}{5}
\ind{ml,aff}{f16b6}{961,883}{6}
\sib{m16a}{869}{f16b1,f16b3,f16b6}
\cpl{f16b1}{f16b2}{m16b1}
\cpl{f16b3}{f16b4}{m16b3}
\cpl{f16b5}{f16b6}{m16b5}
\ind{fl,fs}{f16c1}{845,922}{1}
\ind{ml}{f16c2}{868,922}{2}
\ind{fl}{f16c3}{905,922}{3}
\ind{fl,aff}{f16c4}{936,922}{4} \gty{f16c4}{+/+} \prb{f16c4}
\ind{ml}{f16c5}{959,922}{5}
\sib{m16b1}{907}{f16c1,f16c2}
\sib{m16b3}{907}{f16c3}
\sib{m16b5}{907}{f16c4,f16c5}

% Family 17
\famtitle{t17}{106,995}{95}{Family 17:BFIE}
\gens{g17}{38}{I/1018,II/1057,III/1098}
\ind{fl}{f17a1}{92,1018}{1}
\ind{ml}{f17a2}{116,1018}{2}
\cpl{f17a1}{f17a2}{m17a}
\ind{fl}{f17b1}{55,1057}{1}
\ind{ml,aff}{f17b2}{82,1057}{2}
\ind{fl}{f17b3}{104,1057}{3}
\ind{fl}{f17b4}{123,1057}{4}
\ind{ml}{f17b5}{147,1057}{5}
\sib{m17a}{1044}{f17b1,f17b2,f17b4,f17b5}
\cpl{f17b2}{f17b3}{m17b2}
\ind{fl,aff}{f17c1}{82,1098}{1}
\ind{ml,aff}{f17c2}{105,1098}{2} \gty{f17c2}{+/+} \prb{f17c2}
\sib{m17b2}{1082}{f17c1,f17c2}

% Family 18
\famtitle{t18}{221,995}{88}{Family 18:BFIE}
\gens{g18}{173}{I/1018,II/1057,III/1098}
\ind{fl}{f18a1}{213,1018}{1}
\ind{ml}{f18a2}{237,1018}{2}
\cpl{f18a1}{f18a2}{m18a}
\ind{fl,aff}{f18b1}{196,1057}{1}
\ind{ml,fs}{f18b2}{219,1057}{2}
\ind{fl}{f18b3}{238,1057}{3}
\ind{ml}{f18b4}{262,1057}{4}
\sib{m18a}{1044}{f18b1,f18b4}
\cpl{f18b1}{f18b2}{m18b1}
\cpl{f18b3}{f18b4}{m18b3}
\ind{ml,aff}{f18c1}{207.5,1098}{1} \gty{f18c1}{+/+} \prb{f18c1}
\ind{ml}{f18c2}{250,1098}{2}
\sib{m18b1}{1082}{f18c1}
\sib{m18b3}{1082}{f18c2}

% Family 19
\famtitle{t19}{334,995}{90}{Family 19:BFIE}
\gens{g19}{288}{I/1018,II/1057,III/1098}
\ind{fl}{f19a1}{312,1018}{1}
\ind{ml}{f19a2}{339,1018}{2}
\cpl{f19a1}{f19a2}{m19a}
\ind{fl,aff}{f19b1}{325.5,1057}{1}
\ind{ml}{f19b2}{360,1057}{2}
\sib{m19a}{1040}{f19b1}
\cpl{f19b1}{f19b2}{m19b}
\ind{ml,aff}{f19c1}{342.75,1098}{1} \gty{f19c1}{+/+} \prb{f19c1}
\sib{m19b}{1082}{f19c1}

% Family 20
\famtitle{t20}{474,995}{105}{Family 20:BFIE}
\gens{g20}{402}{I/1018,II/1057,III/1098}
\ind{fl}{f20a1}{455,1018}{1}
\ind{ml}{f20a2}{480,1018}{2}
\cpl{f20a1}{f20a2}{m20a}
\ind{fl}{f20b1}{420,1057}{1}
\ind{ml}{f20b2}{445,1057}{2}
\ind{fl}{f20b3}{467,1057}{3}
\ind{ml}{f20b4}{490,1057}{4}
\ind{fl,aff}{f20b5}{510,1057}{5}
\ind{ml}{f20b6}{535,1057}{6}
\sib{m20a}{1044}{f20b1,f20b4,f20b5}
\cpl{f20b1}{f20b2}{m20b1}
\cpl{f20b3}{f20b4}{m20b3}
\cpl{f20b5}{f20b6}{m20b5}
\ind{ml}{f20c1}{432.5,1098}{1}
\ind{ml}{f20c2}{478.5,1098}{2}
\ind{ml}{f20c3}{514,1098}{3}
\ind{fl,aff}{f20c4}{533,1098}{4} \gty{f20c4}{+/+} \prb{f20c4}
\sib{m20b1}{1082}{f20c1}
\sib{m20b3}{1082}{f20c2}
\sib{m20b5}{1082}{f20c3,f20c4}

% Family 21
\famtitle{t21}{708,994}{103}{Family 21:BFIE}
\gens{g21}{597}{I/1018,II/1057,III/1096,IV/1130}
\ind{fl}{f21a1}{714,1018}{1}
\ind{ml}{f21a2}{738,1018}{2}
\cpl{f21a1}{f21a2}{m21a}
\ind{fl}{f21b1}{625,1057}{1}
\ind{ml,aff}{f21b2}{652,1057}{2}
\ind{fl}{f21b3}{685,1057}{3}
\ind{ml}{f21b4}{708,1057}{4}
\ind{ml}{f21b5}{727,1057}{5}
\ind{fl}{f21b6}{745,1057}{6}
\ind{ml}{f21b7}{766,1057}{7}
\ind{fl}{f21b8}{787,1057}{8}
\ind{ml}{f21b9}{812,1057}{9}
\sib{m21a}{1043}{f21b2,f21b3,f21b5,f21b7,f21b8}
\cpl{f21b1}{f21b2}{m21b1}
\cpl{f21b3}{f21b4}{m21b3}
\cpl{f21b6}{f21b7}{m21b6}
\cpl{f21b8}{f21b9}{m21b8}
\ind{ml}{f21c1}{617,1095}{1}
\ind{ml,aff}{f21c2}{638,1095}{2}
\ind{fl,aff}{f21c3}{657,1095}{3}
\ind{ml}{f21c4}{675,1095}{4}
\ind{fl}{f21c5}{696.5,1095}{5}
\ind{fl}{f21c6}{755.5,1095}{6}
\ind{fl}{f21c7}{787,1095}{7}
\ind{ml}{f21c8}{809,1095}{8}
\sib{m21b1}{1081}{f21c1,f21c2,f21c3}
\sib{m21b3}{1081}{f21c5}
\sib{m21b6}{1081}{f21c6}
\sib{m21b8}{1081}{f21c7,f21c8}
\cpl{f21c3}{f21c4}{m21c3}
\ind{fl,aff}{f21d1}{666,1128}{1} \gty{f21d1}{+/+} \prb{f21d1}
\sib{m21c3}{1114}{f21d1}

% Family 22
\famtitle{t22}{913,994}{105}{Family 22:BFIE}
\gens{g22}{863}{I/1018,II/1057,III/1096,IV/1130}
\ind{fl}{f22a1}{903,1018}{1} \dead{f22a1}
\ind{ml}{f22a2}{927,1018}{2} \dead{f22a2}
\cpl{f22a1}{f22a2}{m22a}
\ind{fl,aff}{f22b1}{915,1057}{1}
\ind{ml}{f22b2}{940,1057}{2}
\sib{m22a}{1040}{f22b1}
\cpl{f22b1}{f22b2}{m22b}
\ind{fl,aff}{f22c1}{883,1095}{1}
\ind{ml}{f22c2}{903,1095}{2}
\ind{ml}{f22c3}{927,1095}{3}
\ind{fl}{f22c4}{947,1095}{4}
\ind{ml}{f22c5}{972,1095}{5}
\sib{m22b}{1080}{f22c1,f22c3,f22c5}
\cpl{f22c1}{f22c2}{m22c1}
\cpl{f22c3}{f22c4}{m22c3}
\ind{fl,aff}{f22d1}{893,1128}{1} \gty{f22d1}{+/+} \prb{f22d1}
\ind{ml}{f22d2}{937,1122}{2}
\sib{m22c1}{1112}{f22d1}
\sib{m22c3}{1110}{f22d2}

% Family 23
\famtitle{t23}{185,1183}{218}{Family 23:ICCA(c.649\_650insC)}
\gens{g23}{33}{I/1206,II/1246,III/1285,IV/1324}
\ind{fl}{f23a1}{139,1206}{1}
\ind{ml,pkd}{f23a2}{175,1206}{2} \dead{f23a2}
\cpl{f23a1}{f23a2}{m23a}
\ind{fl,pkd}{f23b1}{79,1246}{1} \gty{f23b1}{m/+}
\ind{ml}{f23b2}{104,1246}{2}
\ind{ml}{f23b3}{177,1246}{3}
\ind{fl}{f23b4}{201,1246}{4}
\ind{fl}{f23b5}{228,1246}{5}
\ind{ml}{f23b6}{251,1246}{6}
\ind{ml}{f23b7}{272,1246}{7}
\ind{fl}{f23b8}{294,1246}{8}
\ind{ml}{f23b9}{317,1246}{9}
\node[num, text=pkdgray] (ast1) at ($(f23b1)+(7,-9)$) {*};
\sib{m23a}{1230}{f23b1,f23b3,f23b4,f23b5,f23b6,f23b7,f23b8,f23b9}
\cpl{f23b1}{f23b2}{m23b1}
\ind{fl,icca}{f23c1}{58,1285}{1} \gty{f23c1}{m/+}
\ind{ml}{f23c2}{83,1285}{2} \gty{f23c2}{+/+}
\ind{fl}{f23c3}{109,1285}{3}
\ind{ml}{f23c4}{135,1285}{4} \gty{f23c4}{+/+}
\ind{ml,icca}{f23c5}{158,1285}{5} \gty{f23c5}{m/+}
\node[num, text=pkdgray] (ast2) at ($(f23c1)+(7,-9)$) {*};
\sib{m23b1}{1270}{f23c1,f23c4,f23c5}
\cpl{f23c1}{f23c2}{m23c1}
\cpl{f23c3}{f23c4}{m23c3}
\ind{ml,icca}{f23d1}{70.5,1324}{1} \gty{f23d1}{m/+} \prb{f23d1}
\ind{fl}{f23d2}{122,1324}{2}
\sib{m23c1}{1310}{f23d1}
\sib{m23c3}{1310}{f23d2}

% Family 24
\famtitle{t24}{466,1183}{190}{Family 24:ICCA(c.649\_650insC)}
\gens{g24}{366}{I/1206,II/1246,III/1285}
\ind{fl}{f24a1}{451,1206}{1}
\ind{ml}{f24a2}{487,1206}{2} \dead{f24a2}
\cpl{f24a1}{f24a2}{m24a}
\ind{fl}{f24b1}{396,1246}{1}
\ind{ml}{f24b2}{422,1246}{2}
\ind{fl,icca}{f24b3}{451,1246}{3} \gty{f24b3}{m/+}
\ind{ml}{f24b4}{477,1246}{4} \gty{f24b4}{+/+}
\ind{fl}{f24b5}{505,1246}{5}
\ind{ml,aff}{f24b6}{528,1246}{6}
\sib{m24a}{1230}{f24b2,f24b3,f24b6}
\cpl{f24b1}{f24b2}{m24b1}
\cpl{f24b3}{f24b4}{m24b3}
\cpl{f24b5}{f24b6}{m24b5}
\ind{ml}{f24c1}{398,1285}{1}
\ind{ml}{f24c2}{421,1285}{2}
\ind{ml,icca}{f24c3}{451,1285}{3}
\ind{ml,aff}{f24c4}{477,1285}{4} \gty{f24c4}{m/+} \prb{f24c4}
\ind{ml}{f24c5}{516.5,1285}{5}
\sib{m24b1}{1270}{f24c1,f24c2}
\sib{m24b3}{1270}{f24c3,f24c4}
\sib{m24b5}{1270}{f24c5}

% Family 25
\famtitle{t25}{677,1183}{190}{Family 25:ICCA(c.649\_650insC)}
\gens{g25}{594}{I/1206,II/1246,III/1285}
\ind{fl}{f25a1}{630,1206}{1}
\ind{ml,pkd}{f25a2}{675,1206}{2}
\cpl{f25a1}{f25a2}{m25a}
\ind{fl,pkd}{f25b1}{652.5,1246}{1} \gty{f25b1}{m/+}
\ind{ml}{f25b2}{693,1246}{2} \gty{f25b2}{+/+}
\sib{m25a}{1230}{f25b1}
\cpl{f25b1}{f25b2}{m25b}
\ind{ml,aff}{f25c1}{672.75,1285}{1} \gty{f25c1}{m/+} \prb{f25c1}
\sib{m25b}{1270}{f25c1}

% Family 26
\famtitle{t26}{887,1183}{187}{Family 26:ICCA(c.649delC)}
\gens{g26}{789}{I/1206,II/1246,III/1285}
\ind{fl}{f26a1}{894,1206}{1}
\ind{ml}{f26a2}{917,1206}{2}
\cpl{f26a1}{f26a2}{m26a}
\ind{fl}{f26b1}{822,1246}{1} \gty{f26b1}{+/+}
\ind{ml,pkd}{f26b2}{846,1246}{2} \gty{f26b2}{m/+}
\ind{fl}{f26b3}{896,1246}{3}
\ind{ml}{f26b4}{919,1246}{4}
\ind{fl}{f26b5}{949,1246}{5}
\ind{ml}{f26b6}{973,1246}{6}
\sib{m26a}{1230}{f26b2,f26b3,f26b6}
\cpl{f26b1}{f26b2}{m26b1}
\cpl{f26b3}{f26b4}{m26b3}
\cpl{f26b5}{f26b6}{m26b5}
\ind{fl,icca}{f26c1}{807,1285}{1} \gty{f26c1}{m/+} \prb{f26c1}
\ind{fl,aff}{f26c2}{838,1285}{2}
\ind{ml}{f26c3}{870,1285}{3}
\ind{fl}{f26c4}{898,1285}{4}
\ind{ml}{f26c5}{919,1285}{5}
\ind{ml}{f26c6}{961,1285}{6}
\sib{m26b1}{1270}{f26c1,f26c2,f26c3}
\sib{m26b3}{1270}{f26c4,f26c5}
\sib{m26b5}{1270}{f26c6}

% Family 27
\famtitle{t27}{198,1374}{218}{Family 27:ICCA(c.649delC)}
\gens{g27}{36}{I/1398,II/1437,III/1478,IV/1520}
\ind{fl}{f27a1}{170,1398}{1}
\ind{ml}{f27a2}{208,1398}{2} \dead{f27a2}
\cpl{f27a1}{f27a2}{m27a}
\ind{fl}{f27b1}{75,1437}{1} \gty{f27b1}{+/+}
\ind{ml,icca}{f27b2}{114,1437}{2} \gty{f27b2}{m/+}
\ind{fl}{f27b3}{208,1437}{3}
\ind{ml}{f27b4}{232,1437}{4}
\ind{fl,pkd}{f27b5}{284,1437}{5}
\ind{ml}{f27b6}{307,1437}{6}
\ind{fl}{f27b7}{363,1437}{7}
\ind{ml}{f27b8}{399,1437}{8}
\sib{m27a}{1416}{f27b2,f27b3,f27b5,f27b7}
\cpl{f27b1}{f27b2}{m27b1}
\cpl{f27b3}{f27b4}{m27b3}
\cpl{f27b5}{f27b6}{m27b5}
\cpl{f27b7}{f27b8}{m27b7}
\ind{fl,pkd}{f27c1}{56,1478}{1} \gty{f27c1}{m/+}
\ind{ml}{f27c2}{81,1478}{2}
\ind{fl}{f27c3}{102,1478}{3} \gty{f27c3}{+/+}
\ind{ml,icca}{f27c4}{135,1478}{4} \gty{f27c4}{m/+} \prb{f27c4}
\ind{fl}{f27c5}{162,1478}{5}
\ind{ml}{f27c6}{191,1478}{6}
\ind{fl}{f27c7}{218,1478}{7}
\ind{ml}{f27c8}{244,1478}{8}
\ind{fl,pkd}{f27c9}{264,1478}{9}
\ind{ml}{f27c10}{289,1478}{10}
\ind{fl}{f27c11}{315,1478}{11}
\ind{ml}{f27c12}{340,1478}{12}
\ind{fl}{f27c13}{366,1478}{13}
\ind{ml}{f27c14}{396,1478}{14}
\sib{m27b1}{1462}{f27c1,f27c3,f27c4}
\sib{m27b3}{1462}{f27c6,f27c8}
\sib{m27b5}{1462}{f27c9,f27c11}
\sib{m27b7}{1462}{f27c13,f27c14}
\cpl{f27c1}{f27c2}{m27c1}
\cpl{f27c5}{f27c6}{m27c5}
\cpl{f27c7}{f27c8}{m27c7}
\cpl{f27c9}{f27c10}{m27c9}
\cpl{f27c11}{f27c12}{m27c11}
\ind{fl}{f27d1}{56,1520}{1}
\ind{ml}{f27d2}{81,1520}{2}
\ind{ml}{f27d3}{176.5,1520}{3}
\ind{fl}{f27d4}{231,1520}{4}
\ind{fl,aff}{f27d5}{276.5,1520}{5}
\ind{fl}{f27d6}{327.5,1520}{6}
\sib{m27c1}{1506}{f27d1,f27d2}
\sib{m27c5}{1506}{f27d3}
\sib{m27c7}{1506}{f27d4}
\sib{m27c9}{1506}{f27d5}
\sib{m27c11}{1506}{f27d6}

% Family 28
\famtitle{t28}{490,1374}{152}{Family 28:ICCA(c.649delC)}
\gens{g28}{429}{I/1398,II/1437,III/1478}
\ind{fl}{f28a1}{469,1398}{1} \gty{f28a1}{+/+}
\ind{ml}{f28a2}{505,1398}{2} \gty{f28a2}{m/+}
\cpl{f28a1}{f28a2}{m28a}
\ind{fl,pkd}{f28b1}{487,1437}{1} \gty{f28b1}{m/+}
\ind{ml}{f28b2}{531,1437}{2} \gty{f28b2}{+/+}
\sib{m28a}{1420}{f28b1}
\cpl{f28b1}{f28b2}{m28b}
\ind{ml,icca}{f28c1}{488,1478}{1} \gty{f28c1}{m/+} \prb{f28c1}
\ind{fl,aff}{f28c2}{533,1478}{2} \gty{f28c2}{m/+}
\sib{m28b}{1462}{f28c1,f28c2}

% Family 29
\famtitle{t29}{675,1374}{188}{Family 29:ICCA(c.514\_517delTCTG)}
\gens{g29}{589}{I/1398,II/1437,III/1478}
\ind{fl}{f29a1}{680,1398}{1} \gty{f29a1}{+/+}
\ind{ml}{f29a2}{710,1398}{2} \gty{f29a2}{m/+}
\cpl{f29a1}{f29a2}{m29a}
\ind{fl}{f29b1}{626,1437}{1} \gty{f29b1}{+/+}
\ind{ml,icca}{f29b2}{659,1437}{2} \dead{f29b2}
\ind{fl}{f29b3}{693,1437}{3}
\ind{ml,aff}{f29b4}{725,1437}{4} \gty{f29b4}{m/+}
\sib{m29a}{1418}{f29b2,f29b4}
\cpl{f29b1}{f29b2}{m29b1}
\cpl{f29b3}{f29b4}{m29b3}
\ind{ml}{f29c1}{624,1478}{1} \dead{f29c1}
\ind{fl,aff}{f29c2}{653,1478}{2} \gty{f29c2}{m/+} \prb{f29c2}
\ind{fl}{f29c3}{709,1478}{3}
\sib{m29b1}{1462}{f29c1,f29c2}
\sib{m29b3}{1462}{f29c3}

% Family 30
\famtitle{t30}{893,1374}{205}{Family 30:ICCA(c.1023A>T)}
\gens{g30}{785}{I/1398,II/1437,III/1478,IV/1520}
\ind{fl}{f30a1}{865,1398}{1} \dead{f30a1}
\ind{ml}{f30a2}{903,1398}{2} \dead{f30a2}
\cpl{f30a1}{f30a2}{m30a}
\ind{fl,aff}{f30b1}{884,1437}{1}
\ind{ml}{f30b2}{923,1437}{2}
\sib{m30a}{1420}{f30b1}
\cpl{f30b1}{f30b2}{m30b}
\ind{fl}{f30c1}{807,1478}{1}
\ind{ml}{f30c2}{835,1478}{2}
\ind{fl}{f30c3}{857,1478}{3}
\ind{ml}{f30c4}{881,1478}{4}
\ind{fl}{f30c5}{904,1478}{5}
\ind{ml}{f30c6}{929,1478}{6}
\ind{fl,aff}{f30c7}{952,1478}{7}
\ind{ml}{f30c8}{977,1478}{8}
\ind{fl}{f30c9}{1000,1478}{9} \gty{f30c9}{+/+}
\ind{ml,icca}{f30c10}{1023,1478}{10} \gty{f30c10}{m/+}
\sib{m30b}{1462}{f30c1,f30c4,f30c6,f30c7,f30c10}
\cpl{f30c1}{f30c2}{m30c1}
\cpl{f30c3}{f30c4}{m30c3}
\cpl{f30c5}{f30c6}{m30c5}
\cpl{f30c7}{f30c8}{m30c7}
\cpl{f30c9}{f30c10}{m30c9}
\ind{fl}{f30d1}{821,1520}{1}
\ind{fl}{f30d2}{869,1520}{2}
\ind{fl}{f30d3}{916.5,1520}{3}
\ind{ml}{f30d4}{964.5,1520}{4}
\ind{ml,aff}{f30d5}{1011.5,1520}{5} \gty{f30d5}{m/+} \prb{f30d5}
\sib{m30c1}{1506}{f30d1}
\sib{m30c3}{1506}{f30d2}
\sib{m30c5}{1506}{f30d3}
\sib{m30c7}{1506}{f30d4}
\sib{m30c9}{1506}{f30d5}

% legend
\node[sym, ellipse, minimum width=13pt, minimum height=17pt, fill=ink] (lg1) at (63,1560) {};
\node[sym, rectangle, minimum width=12pt, minimum height=17pt, fill=ink] (lg2) at (92,1560) {};
\node[lgd] (lt1) at (119,1560) {\resizebox{181pt}{\height}{BIE(benign infantile epilepsy)}};
\node[sym, ellipse, minimum width=13pt, minimum height=17pt, fs] (lg3) at (63,1588) {};
\node[sym, rectangle, minimum width=12pt, minimum height=17pt, fs] (lg4) at (92,1588) {};
\node[lgd] (lt2) at (119,1588) {\resizebox{122pt}{\height}{FS(febrile seizures )}};
\node[sym, ellipse, minimum width=13pt, minimum height=17pt, pkd] (lg5) at (413,1560) {};
\node[sym, rectangle, minimum width=12pt, minimum height=17pt, pkd] (lg6) at (441,1560) {};
\node[lgd] (lt3) at (455,1560) {\resizebox{248pt}{\height}{PKD(paraxysmal kinesigenic dyskinesia)}};
\node[sym, ellipse, minimum width=13pt, minimum height=17pt, icca] (lg7) at (413,1588) {};
\node[sym, rectangle, minimum width=12pt, minimum height=17pt, icca] (lg8) at (441,1588) {};
\node[lgd] (lt4) at (452,1588) {\resizebox{295pt}{\height}{ICCA(infantile convulsions and choreoathetosis)}};
\end{tikzpicture}
\end{document}
